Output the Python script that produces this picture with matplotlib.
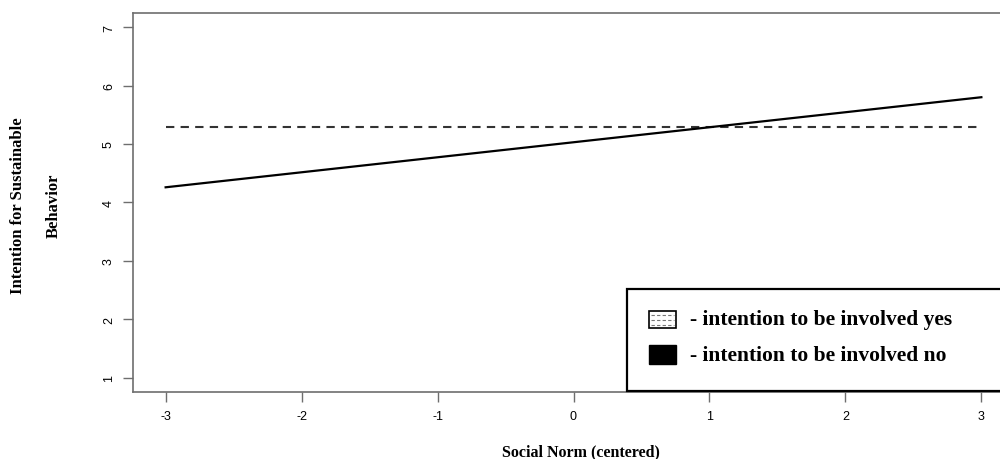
import matplotlib
matplotlib.use("Agg")
import matplotlib.pyplot as plt
from matplotlib.patches import Rectangle
from matplotlib.lines import Line2D

# values
x_ends = [-3, 3]
yes_line = [5.29, 5.29]
no_line = [4.26, 5.80]
x_ticks = [-3, -2, -1, 0, 1, 2, 3]
y_ticks = [1, 2, 3, 4, 5, 6, 7]
legend_labels = ["- intention to be involved yes", "- intention to be involved no"]

serif = ["Liberation Serif", "DejaVu Serif"]
sans = ["Liberation Sans", "DejaVu Sans"]
gray = "#6e6e6e"

fig = plt.figure(figsize=(10, 4.6), dpi=100)
ax = fig.add_axes([0.133, 1 - 393 / 460, 1.014 - 0.133, (393 - 14) / 460])

ax.plot(x_ends, yes_line, color="#333333", lw=1.5, ls=(0, (4, 3)))
ax.plot(x_ends, no_line, color="black", lw=1.6)

# R style: 4% padding around the data range
ax.set_xlim(-3.24, 3.24)
ax.set_ylim(0.76, 7.24)
ax.set_xticks(x_ticks)
ax.set_yticks(y_ticks)
ax.set_xticklabels([str(v) for v in x_ticks], family=sans, fontsize=9)
ax.set_yticklabels([str(v) for v in y_ticks], family=sans, fontsize=9,
                   rotation=90, va="center")
ax.tick_params(length=7, width=1, color=gray, pad=6)
for s in ax.spines.values():
    s.set_color(gray)
    s.set_linewidth(1.2)

ax.set_xlabel("Social Norm (centered)", family=serif, fontweight="bold",
              fontsize=11.5)
ax.xaxis.set_label_coords((581 - 133) / 881, -0.135)
fig.text(0.018, 0.552, "Intention for Sustainable", family=serif, fontweight="bold",
         fontsize=12, rotation=90, ha="center", va="center")
fig.text(0.054, 0.552, "Behavior", family=serif, fontweight="bold",
         fontsize=12, rotation=90, ha="center", va="center")

# legend box, runs off the right edge like the original
tf = fig.transFigure
fig.patches.append(Rectangle((627 / 1000, 1 - 392 / 460), 0.4, 102 / 460,
                             transform=tf, facecolor="white",
                             edgecolor="black", lw=1.6, zorder=3))
fig.patches.append(Rectangle((649 / 1000, 1 - 329 / 460), 27 / 1000, 17 / 460,
                             transform=tf, facecolor="white", edgecolor="black",
                             lw=1.2, zorder=4))
for yp in [316, 321, 326]:
    fig.lines.append(Line2D([651 / 1000, 674 / 1000], [1 - yp / 460] * 2,
                            transform=tf, color="#777777", lw=0.8,
                            ls=(0, (3, 2)), zorder=5))
fig.patches.append(Rectangle((649 / 1000, 1 - 365 / 460), 27 / 1000, 19 / 460,
                             transform=tf, facecolor="black", edgecolor="black",
                             lw=1.0, zorder=4))
for lab, yp in zip(legend_labels, [320, 356]):
    fig.text(690 / 1000, 1 - yp / 460, lab, family=serif, fontweight="bold",
             fontsize=15.5, va="center", ha="left", zorder=5)

fig.savefig("out.png", dpi=100)
